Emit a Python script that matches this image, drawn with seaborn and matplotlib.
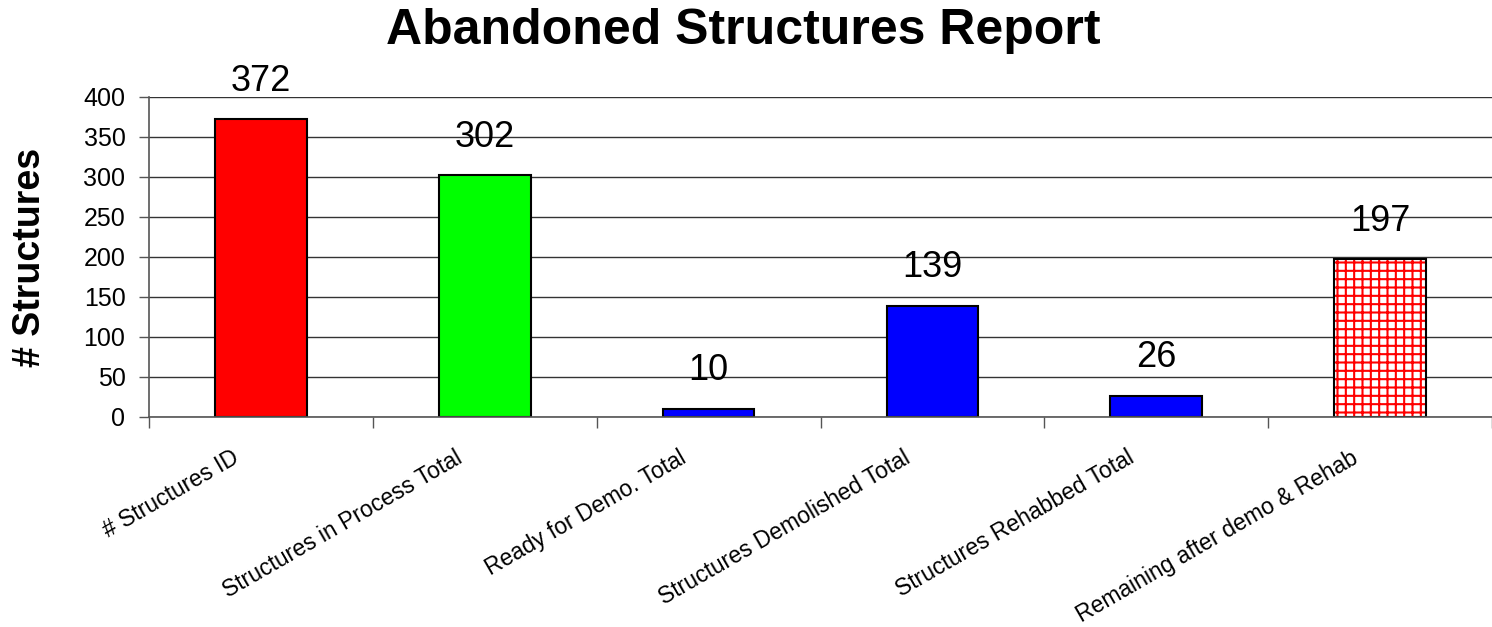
import matplotlib
matplotlib.use('Agg')
import matplotlib.pyplot as plt
import matplotlib.transforms as mtransforms
from matplotlib.patches import Rectangle
import seaborn as sns
import pandas as pd
import numpy as np

categories = ["# Structures ID", "Structures in Process Total", "Ready for Demo. Total",
              "Structures Demolished Total", "Structures Rehabbed Total",
              "Remaining after demo & Rehab"]
values = [372, 302, 10, 139, 26, 197]
colors = ["#FF0000", "#00FF00", "#0000FF", "#0000FF", "#0000FF", "#FFFFFF"]
yticks = [0, 50, 100, 150, 200, 250, 300, 350, 400]
title = "Abandoned Structures Report"
ylabel = "# Structures"

sns.set_theme(style="white")
plt.rcParams['font.family'] = ['Liberation Sans', 'DejaVu Sans']
plt.rcParams['text.color'] = 'black'
plt.rcParams['axes.labelcolor'] = 'black'
plt.rcParams['xtick.color'] = 'black'
plt.rcParams['ytick.color'] = 'black'
plt.rcParams['hatch.linewidth'] = 1.5

fig = plt.figure(figsize=(14.92, 6.27), dpi=100)
ax = fig.add_axes([0.0999, 1 - 417 / 627, 1 - 0.0999, (417 - 97) / 627])

df = pd.DataFrame({"cat": categories, "val": values})
sns.barplot(data=df, x="cat", y="val", hue="cat", palette=colors, legend=False,
            width=0.41, edgecolor="black", linewidth=1.5, saturation=1, ax=ax)

bars = list(ax.patches)

# hatched last bar: red grid on white, black outline
p = bars[-1]
p.set_hatch("++")
p.set_edgecolor("red")
p.set_linewidth(0)
ax.add_patch(Rectangle(p.get_xy(), p.get_width(), p.get_height(), fill=False,
                       edgecolor="black", linewidth=1.5, zorder=p.get_zorder() + 0.1))

for b, v in zip(bars, values):
    ax.annotate(f"{v}", (b.get_x() + b.get_width() / 2, v), xytext=(0, 15),
                textcoords="offset points", ha="center", va="bottom", fontsize=26)

ax.set_xlim(-0.5, 5.5)
ax.set_ylim(0, 400)
ax.set_yticks(yticks)
ax.set_yticklabels([str(t) for t in yticks])
ax.set_axisbelow(True)
ax.yaxis.grid(True, color="#333333", linewidth=1)
ax.xaxis.grid(False)

ax.set_xticks(range(len(categories)))
ax.set_xticklabels(categories, rotation=30, ha="right", rotation_mode="anchor", fontsize=16.5)
ax.set_xticks(np.arange(-0.5, len(categories), 1), minor=True)
ax.tick_params(axis="x", which="major", length=0, pad=21, bottom=True)
ax.tick_params(axis="x", which="minor", length=8, width=1, color="#555555",
               direction="out", bottom=True)
ax.tick_params(axis="y", length=7, width=1, color="#555555", labelsize=18, pad=10,
               left=True, direction="out")

offset = mtransforms.ScaledTranslation(-0.30, 0, fig.dpi_scale_trans)
for lbl in ax.get_xticklabels():
    lbl.set_transform(lbl.get_transform() + offset)

for s in ["top", "right"]:
    ax.spines[s].set_visible(False)
for s in ["left", "bottom"]:
    ax.spines[s].set_color("#555555")
    ax.spines[s].set_linewidth(1.2)

ax.set_xlabel("")
ax.set_ylabel(ylabel, fontsize=27, fontweight="bold")
ax.yaxis.set_label_coords(-0.075, 0.5)

fig.text(0.498, 1 - 44 / 627, title, ha="center", va="baseline",
         fontsize=36, fontweight="bold")

fig.savefig("out.png", dpi=100)
